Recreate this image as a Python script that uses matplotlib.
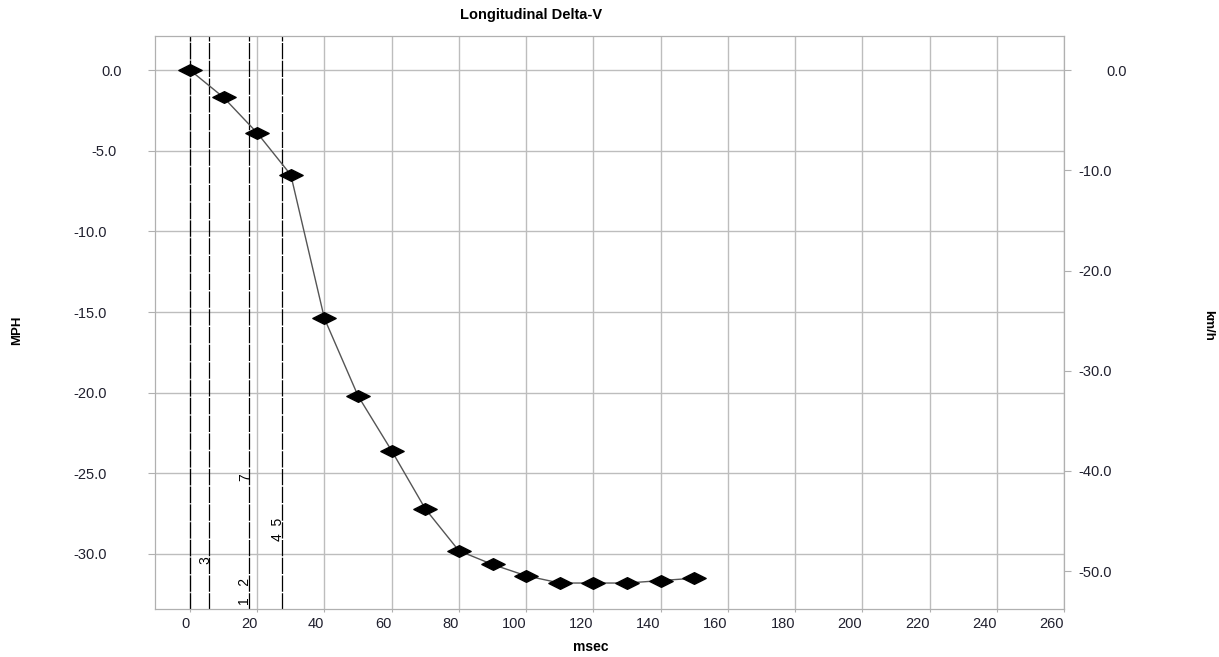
import matplotlib
matplotlib.use("Agg")
import matplotlib.pyplot as plt
from matplotlib.path import Path
from matplotlib.transforms import ScaledTranslation

plt.rcParams["font.family"] = ["Liberation Sans", "DejaVu Sans"]

# --- Data ---------------------------------------------------------------------
TIME_MS = [0, 10, 20, 30, 40, 50, 60, 70, 80, 90, 100, 110, 120, 130, 140, 150]
DELTA_V_MPH = [0.0, -1.7, -3.9, -6.5, -15.4, -20.2, -23.6, -27.2, -29.8,
               -30.65, -31.35, -31.8, -31.8, -31.8, -31.65, -31.5]

EVENT_MS = [0.0, 5.75, 17.5, 27.3]

EVENT_LABELS = ["1   2", "3", "4  5", "7"]
EVENT_LABEL_MS = [17.5, 5.75, 27.3, 17.5]
EVENT_LABEL_MPH = [-32.3, -30.4, -28.45, -25.25]

X_TICKS = list(range(0, 261, 20))
MPH_TICKS = [0, -5, -10, -15, -20, -25, -30]
KMH_TICKS = [0, -10, -20, -30, -40, -50]

MPH_TO_KMH = 1.609344

# --- Layout -------------------------------------------------------------------
W, H = 1219, 657
AX_LEFT, AX_RIGHT, AX_TOP, AX_BOTTOM = 155, 1064, 36, 609
XLIM = (-10.4, 260)
YLIM = (-33.41, 2.11)

GRID_COLOR = "#bdbdbd"
SPINE_COLOR = "#b0b0b0"
TEXT_COLOR = "#20202e"

# quirky label placement of the original (pixels)
LEFT_SHIFT = {0: 15, -5: 10}
RIGHT_SHIFT = {0: 27.5}

diamond = Path([(-1, 0), (0, 0.5), (1, 0), (0, -0.5), (-1, 0)],
               [Path.MOVETO, Path.LINETO, Path.LINETO, Path.LINETO, Path.CLOSEPOLY])

fig = plt.figure(figsize=(W / 100, H / 100), dpi=100)
ax = fig.add_axes([AX_LEFT / W, (H - AX_BOTTOM) / H,
                   (AX_RIGHT - AX_LEFT) / W, (AX_BOTTOM - AX_TOP) / H])

ax.set_xlim(*XLIM)
ax.set_ylim(*YLIM)
ax.set_xticks(X_TICKS)
ax.set_yticks(MPH_TICKS)
ax.set_yticklabels([f"{v:.1f}" for v in MPH_TICKS])
ax.grid(True, color=GRID_COLOR, lw=1.0)
ax.set_axisbelow(True)

for spine in ax.spines.values():
    spine.set_color(SPINE_COLOR)

ax.tick_params(axis="x", direction="out", length=2.5, color=SPINE_COLOR,
               labelsize=10.5, labelcolor=TEXT_COLOR, pad=3)
ax.tick_params(axis="y", direction="out", length=5, color=SPINE_COLOR,
               labelsize=10.5, labelcolor=TEXT_COLOR, pad=29.5)
plt.setp(ax.get_xticklabels(), ha="right")

for v, lbl in zip(MPH_TICKS, ax.get_yticklabels()):
    dx = LEFT_SHIFT.get(v, 0)
    if dx:
        lbl.set_transform(lbl.get_transform() + ScaledTranslation(dx / 100, 0, fig.dpi_scale_trans))

# event markers
for t in EVENT_MS:
    ax.axvline(t, color="black", lw=0.9, ls=(0, (13, 1.2)), zorder=2)

for s, t, v in zip(EVENT_LABELS, EVENT_LABEL_MS, EVENT_LABEL_MPH):
    ax.text(t, v, s, rotation=90, rotation_mode="anchor", ha="center", va="baseline",
            fontsize=10, color="black", zorder=3)

ax.plot(TIME_MS, DELTA_V_MPH, color="#555555", lw=1.0, marker=diamond,
        markersize=16.8, markerfacecolor="black", markeredgecolor="black", zorder=5)

# secondary km/h axis
ax2 = ax.twinx()
ax2.set_ylim(YLIM[0] * MPH_TO_KMH, YLIM[1] * MPH_TO_KMH)
ax2.set_yticks(KMH_TICKS)
ax2.set_yticklabels([f"{v:.1f}" for v in KMH_TICKS])
for spine in ax2.spines.values():
    spine.set_color(SPINE_COLOR)
ax2.tick_params(axis="y", direction="out", length=5, color=SPINE_COLOR,
                labelsize=10.5, labelcolor=TEXT_COLOR, pad=5.4)
for v, lbl in zip(KMH_TICKS, ax2.get_yticklabels()):
    dx = RIGHT_SHIFT.get(v, 0)
    if dx:
        lbl.set_transform(lbl.get_transform() + ScaledTranslation(dx / 100, 0, fig.dpi_scale_trans))

# titles
fig.text(531 / W, 1 - 14.5 / H, "Longitudinal Delta-V", ha="center", va="center",
         fontsize=10.5, fontweight="bold", color="black")
fig.text(591 / W, 1 - 647 / H, "msec", ha="center", va="center",
         fontsize=10, fontweight="bold", color="black")
fig.text(17 / W, 1 - 330 / H, "MPH", ha="center", va="center", rotation=90,
         fontsize=9.5, fontweight="bold", color="black")
fig.text(1208.5 / W, 1 - 325 / H, "km/h", ha="center", va="center", rotation=-90,
         fontsize=9.5, fontweight="bold", color="black")

fig.savefig("out.png", dpi=100, facecolor="white")
